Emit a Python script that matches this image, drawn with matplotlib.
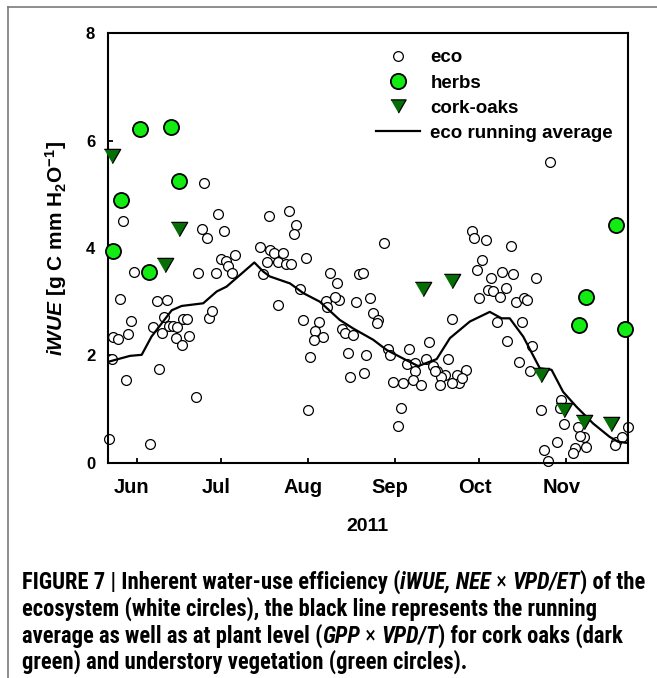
import matplotlib
matplotlib.use('Agg')
import matplotlib.pyplot as plt
from matplotlib import font_manager
from matplotlib.font_manager import FontProperties
from matplotlib.lines import Line2D
from matplotlib.transforms import ScaledTranslation

# ---------------- data (x = day of year 2011) ----------------
eco_doy = [142.1, 143.1, 143.7, 145.2, 149.0, 150.1, 146.1, 151.0, 148.1, 147.0,
           156.7, 159.9, 157.9, 159.1, 162.9, 161.8, 160.9, 163.6, 165.0, 166.4,
           166.0, 168.0, 168.6, 170.0, 170.7, 173.1, 173.9, 177.8, 179.0, 180.1,
           181.9, 183.8, 184.6, 185.8, 187.0, 176.1, 181.0, 175.1, 177.1, 183.1,
           199.1, 206.2, 208.9, 208.0, 195.9, 197.1, 198.3, 199.4, 200.9, 202.4,
           204.0, 205.1, 206.9, 202.2, 212.2, 210.1, 211.1, 217.0, 215.5, 218.2,
           215.1, 213.7, 213.1, 221.0, 223.2, 219.4, 219.8, 224.1, 222.6, 225.0,
           226.1, 229.1, 227.1, 227.9, 230.0, 231.2, 232.4, 233.6, 232.9, 235.0,
           236.2, 238.0, 237.4, 240.0, 241.3, 242.1, 249.0, 248.1, 251.0, 256.1,
           255.0, 257.6, 259.0, 262.9, 261.7, 260.5, 265.9, 266.8, 269.2, 267.7,
           264.3, 259.9, 251.0, 250.4, 253.1, 243.1, 246.9, 246.0, 245.1, 258.2,
           299.1, 271.2, 272.1, 276.2, 285.1, 275.0, 273.0, 278.1, 282.2, 286.0,
           294.1, 276.9, 278.9, 283.3, 281.3, 273.9, 286.9, 289.9, 291.1, 264.1,
           280.1, 289.2, 284.0, 292.9, 288.2, 292.0, 296.1, 303.2, 302.6, 304.1,
           301.5, 297.1, 298.3, 309.2, 311.3, 312.1, 308.0, 307.2, 309.8, 322.8,
           324.6, 326.8, 322.2]
eco_val = [0.45, 1.94, 2.35, 2.31, 2.39, 2.64, 3.05, 3.55, 1.54, 4.51,
           0.35, 1.75, 2.53, 3.01, 3.03, 2.72, 2.42, 2.55, 2.55, 2.52,
           2.33, 2.19, 2.68, 2.68, 2.36, 1.23, 3.53, 2.69, 2.83, 3.53,
           3.79, 3.76, 3.66, 3.53, 3.87, 5.21, 4.63, 4.35, 4.18, 4.32,
           4.60, 4.69, 4.42, 4.27, 4.01, 3.51, 3.74, 3.96, 3.91, 3.73,
           3.91, 3.71, 3.71, 2.94, 3.81, 3.23, 2.66, 2.63, 2.46, 2.35,
           2.29, 1.96, 0.98, 3.53, 3.34, 3.01, 2.91, 3.03, 3.09, 2.50,
           2.41, 2.38, 2.04, 1.59, 2.99, 3.51, 3.53, 2.01, 1.68, 3.06,
           2.79, 2.66, 2.60, 4.10, 2.11, 2.01, 2.11, 1.83, 1.85, 2.25,
           1.93, 1.80, 1.71, 1.93, 1.63, 1.60, 1.63, 1.48, 1.73, 1.57,
           1.48, 1.45, 1.70, 1.54, 1.44, 1.51, 1.48, 1.01, 0.68, 1.70,
           5.61, 4.32, 4.18, 4.14, 4.04, 3.78, 3.59, 3.45, 3.56, 3.52,
           3.45, 3.22, 3.19, 3.25, 3.09, 3.06, 3.00, 3.06, 3.03, 2.67,
           2.63, 2.63, 2.27, 2.17, 1.88, 1.70, 0.98, 1.17, 1.01, 0.72,
           0.39, 0.24, 0.04, 0.67, 0.47, 0.29, 0.27, 0.18, 0.50, 0.39,
           0.48, 0.66, 0.33]

herbs_doy = [143.5, 146.3, 153.2, 164.2, 167.2, 156.4, 322.6, 311.8, 309.4, 325.8]
herbs_val = [3.95, 4.89, 6.22, 6.26, 5.24, 3.56, 4.43, 3.09, 2.57, 2.49]

cork_doy = [143.1, 167.2, 162.1, 254.0, 264.1, 296.1, 304.1, 311.2, 321.0]
cork_val = [5.71, 4.35, 3.68, 3.23, 3.39, 1.63, 0.98, 0.76, 0.73]

avg_doy = [141.9, 149.6, 153.8, 157.3, 164.5, 168.0, 175.7, 180.5, 184.0, 193.9,
           197.1, 199.4, 206.6, 211.3, 217.2, 224.3, 229.1, 236.2, 241.0, 246.9,
           252.2, 258.8, 263.5, 270.6, 277.7, 281.9, 284.8, 289.6, 295.5, 299.7,
           303.8, 308.6, 314.5, 320.4, 323.4, 326.4]
avg_val = [1.88, 1.99, 2.01, 2.35, 2.84, 2.92, 2.97, 3.19, 3.28, 3.73,
           3.56, 3.47, 3.34, 3.16, 3.00, 2.66, 2.50, 2.29, 2.10, 1.94,
           1.80, 1.93, 2.32, 2.63, 2.81, 2.69, 2.69, 2.35, 1.76, 1.73,
           1.32, 1.04, 0.73, 0.48, 0.39, 0.37]

month_ticks = [152, 182, 213, 244, 274, 305]
month_labels = ['Jun', 'Jul', 'Aug', 'Sep', 'Oct', 'Nov']
y_ticks = [0, 2, 4, 6, 8]
legend_labels = ['eco', 'herbs', 'cork-oaks', 'eco running average']

caption_lines = [
    [("FIGURE 7 | Inherent water-use efficiency (", 'normal', 'bold'),
     ("iWUE, NEE", 'italic', 'bold'), (" \u00d7 ", 'normal', 'normal'),
     ("VPD/ET", 'italic', 'bold'), (") of the", 'normal', 'bold')],
    [("ecosystem (white circles), the black line represents the running", 'normal', 'bold')],
    [("average as well as at plant level (", 'normal', 'bold'),
     ("GPP", 'italic', 'bold'), (" \u00d7 ", 'normal', 'normal'),
     ("VPD/T", 'italic', 'bold'), (") for cork oaks (dark", 'normal', 'bold')],
    [("green) and understory vegetation (green circles).", 'normal', 'bold')],
]

# ---------------- style ----------------
plt.rcParams['font.family'] = ['Liberation Sans', 'DejaVu Sans']
plt.rcParams['font.weight'] = 'bold'
plt.rcParams['mathtext.fontset'] = 'custom'
plt.rcParams['mathtext.rm'] = 'Liberation Sans:bold'
plt.rcParams['mathtext.it'] = 'Liberation Sans:bold:italic'
plt.rcParams['mathtext.bf'] = 'Liberation Sans:bold'
plt.rcParams['mathtext.sf'] = 'Liberation Sans:bold'

GREEN = '#12ec12'
DKGREEN = '#056e05'
TRI = [(-1.0, 0.866), (1.0, 0.866), (0.0, -0.866)]

W, H, DPI = 657, 678, 100
fig = plt.figure(figsize=(W / DPI, H / DPI), dpi=DPI)
ax = fig.add_axes([107.7 / W, 1 - 462.7 / H, (628 - 107.7) / W, (462.7 - 33.3) / H])

ax.scatter(eco_doy, eco_val, s=50, facecolor='white', edgecolor='black',
           linewidths=0.9, zorder=2, clip_on=False)
ax.plot(avg_doy, avg_val, color='black', lw=1.6, zorder=3)
ax.scatter(herbs_doy, herbs_val, s=118, facecolor=GREEN, edgecolor='black',
           linewidths=1.3, zorder=4, clip_on=False)
ax.scatter(cork_doy, cork_val, s=140, marker=TRI, facecolor=DKGREEN,
           edgecolor='black', linewidths=0.9, zorder=5, clip_on=False)

ax.set_xlim(141.7, 326.9)
ax.set_ylim(0, 8)
ax.set_xticks(month_ticks)
ax.set_xticklabels(month_labels)
ax.set_yticks(y_ticks)
ax.set_yticklabels([str(v) for v in y_ticks])
for s in ax.spines.values():
    s.set_linewidth(1.5)
ax.tick_params(direction='in', length=3.8, width=1.3)
ax.tick_params(axis='x', labelsize=14.5, pad=11)
ax.tick_params(axis='y', labelsize=12, pad=9)
for lab in ax.get_xticklabels():
    lab.set_fontweight('bold')
    lab.set_transform(lab.get_transform() + ScaledTranslation(-5 / DPI, 0, fig.dpi_scale_trans))
for lab in ax.get_yticklabels():
    lab.set_fontweight('bold')

ax.set_xlabel('2011', fontsize=14, fontweight='bold', labelpad=15)
ax.set_ylabel('$\\mathit{iWUE}$ [g C mm H$_2$O$^{-1}$]', fontsize=15,
              fontweight='bold', labelpad=12)

handles = [
    Line2D([], [], marker='o', ls='none', mfc='white', mec='black', ms=7, mew=0.9),
    Line2D([], [], marker='o', ls='none', mfc=GREEN, mec='black', ms=11, mew=1.3),
    Line2D([], [], marker=TRI, ls='none', mfc=DKGREEN, mec='black', ms=11, mew=0.9),
    Line2D([], [], color='black', lw=1.6),
]
ax.legend(handles, legend_labels, loc='upper left', bbox_to_anchor=(0.5157, 0.963),
          frameon=False, handlelength=2.35, handletextpad=0.55, labelspacing=0.43,
          borderpad=0, borderaxespad=0,
          prop=FontProperties(family='Liberation Sans', weight='bold', size=13.5))

# figure frame (gray lines top and left)
fig.add_artist(Line2D([8 / W, 1.0], [1 - 7 / H, 1 - 7 / H], color='#7a7a7a', lw=1.2,
                      transform=fig.transFigure))
fig.add_artist(Line2D([8 / W, 8 / W], [1 - 7 / H, 0.0], color='#7a7a7a', lw=1.2,
                      transform=fig.transFigure))

# ---------------- caption ----------------
names = {f.name for f in font_manager.fontManager.ttflist}
cap_kwargs = None
for fam in ['Liberation Sans Narrow', 'Roboto Condensed', 'Open Sans Condensed']:
    if fam in names:
        cap_kwargs = dict(family=fam)
        break
if cap_kwargs is None:
    cond = [f for f in font_manager.fontManager.ttflist
            if f.name == 'DejaVu Sans' and str(f.stretch) in ('condensed', 'semi-condensed')]
    if cond:
        cap_kwargs = dict(family='DejaVu Sans', stretch='condensed')
    else:
        cap_kwargs = dict(family='Liberation Sans')

renderer = fig.canvas.get_renderer()


def seg_width(txt, style, weight, size):
    a = fig.text(0, 0, '|' + txt + '|', fontsize=size, fontstyle=style,
                 fontweight=weight, **cap_kwargs)
    b = fig.text(0, 0, '||', fontsize=size, fontstyle=style, fontweight=weight, **cap_kwargs)
    w = a.get_window_extent(renderer).width - b.get_window_extent(renderer).width
    a.remove()
    b.remove()
    return w


line1_w = sum(seg_width(t, st, wt, 10) for t, st, wt in caption_lines[0])
cap_size = 10 * (643 - 22) / line1_w
cap_size = min(cap_size, 17.5)

baselines = [589, 616, 643, 669]
for segs, yb in zip(caption_lines, baselines):
    x = 22.0
    for t, st, wt in segs:
        fig.text(x / W, 1 - yb / H, t, fontsize=cap_size, fontstyle=st, fontweight=wt,
                 va='baseline', ha='left', **cap_kwargs)
        x += seg_width(t, st, wt, cap_size)

fig.savefig('out.png', dpi=DPI)
